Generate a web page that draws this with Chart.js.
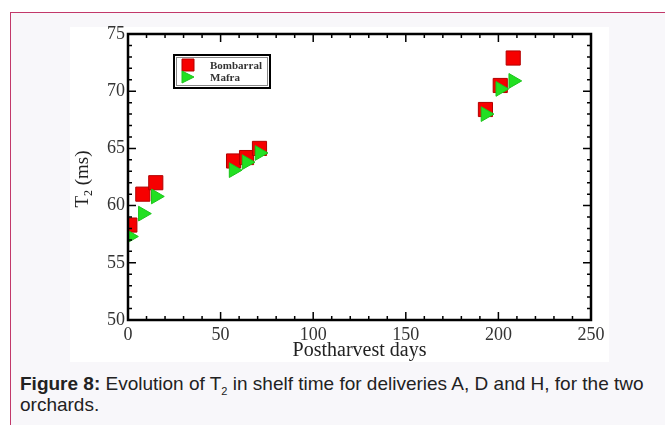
<!DOCTYPE html>
<html>
<head>
<meta charset="utf-8">
<script src="https://cdn.jsdelivr.net/npm/chart.js@4.4.1/dist/chart.umd.min.js"></script>
<style>
  html, body { margin: 0; padding: 0; }
  body { width: 665px; height: 425px; background: #fff; overflow: hidden; position: relative; }
  .frame { position: absolute; left: 10px; top: 12px; width: 700px; height: 450px;
           border: 1.5px solid #c2386a; background: #f8f7fa; box-sizing: border-box; }
  .figure { position: absolute; left: 70px; top: 27px; width: 539px; height: 335px; background: #fff; }
  .plot { position: absolute; left: 0; top: -4px; width: 539px; height: 339px; }
  .caption { position: absolute; left: 20px; top: 373px; width: 640px;
             font-family: "Liberation Sans", Arial, sans-serif; font-size: 19px; line-height: 21px; color: #222; }
  .caption sub { font-size: 11px; vertical-align: -5px; line-height: 0; }
</style>
</head>
<body>
<div class="frame"></div>
<div class="figure"><div class="plot"><canvas id="t2_chart"></canvas></div></div>
<div class="caption"><b>Figure 8:</b> Evolution of T<sub>2</sub> in shelf time for deliveries A, D and H, for the two orchards.</div>

<script>
// Data
const days_bombarral = [1, 8, 15, 57, 64, 71, 193, 201, 208];
const t2_bombarral = [58.3, 61.0, 62.0, 63.9, 64.2, 65.0, 68.4, 70.5, 72.9];
const days_mafra = [1, 8, 15, 57, 64, 71, 193, 201, 208];
const t2_mafra = [57.3, 59.3, 60.8, 63.1, 63.8, 64.6, 68.0, 70.2, 70.9];
const series_names = ["Bombarral", "Mafra"];
const x_title = "Postharvest days";

const ctx = document.getElementById("t2_chart").getContext("2d");

function toPoints(xs, ys) {
  return xs.map((x, i) => ({ x: x, y: ys[i] }));
}

// frame, inward ticks on all 4 sides, axis titles, legend box
const decorations = {
  id: "decorations",
  afterDraw(chart) {
    const c = chart.ctx;
    const a = chart.chartArea;
    const xs = chart.scales.x, ys = chart.scales.y;
    c.save();
    c.strokeStyle = "#000";
    c.lineWidth = 1.5;
    c.beginPath();
    for (let v = 0; v <= 250; v += 10) {
      const px = xs.getPixelForValue(v);
      const len = v % 50 === 0 ? 8 : 4;
      c.moveTo(px, a.bottom); c.lineTo(px, a.bottom - len);
      c.moveTo(px, a.top); c.lineTo(px, a.top + len);
    }
    for (let v = 50; v <= 75; v += 1) {
      const py = ys.getPixelForValue(v);
      const len = v % 5 === 0 ? 8 : 4;
      c.moveTo(a.left, py); c.lineTo(a.left + len, py);
      c.moveTo(a.right, py); c.lineTo(a.right - len, py);
    }
    c.stroke();
    c.lineWidth = 2.5;
    c.strokeRect(a.left, a.top, a.right - a.left, a.bottom - a.top);

    // x title
    c.fillStyle = "#222";
    c.font = "20px 'Liberation Serif', serif";
    c.textAlign = "center";
    c.textBaseline = "middle";
    c.fillText(x_title, (a.left + a.right) / 2, 328);

    // y title with subscript
    c.translate(12, (a.top + a.bottom) / 2 + 2);
    c.rotate(-Math.PI / 2);
    c.textAlign = "left";
    c.textBaseline = "alphabetic";
    c.font = "19px 'Liberation Serif', serif";
    const wT = c.measureText("T").width;
    c.font = "12px 'Liberation Serif', serif";
    const w2 = c.measureText("2").width;
    c.font = "19px 'Liberation Serif', serif";
    const wRest = c.measureText(" (ms)").width;
    let x0 = -(wT + w2 + wRest) / 2;
    c.fillText("T", x0, 6);
    c.font = "12px 'Liberation Serif', serif";
    c.fillText("2", x0 + wT, 10);
    c.font = "19px 'Liberation Serif', serif";
    c.fillText(" (ms)", x0 + wT + w2, 6);
    c.restore();

    // legend
    c.save();
    const lx = 104, ly = 32, lw = 96, lh = 33;
    c.fillStyle = "#fff";
    c.fillRect(lx, ly, lw, lh);
    c.strokeStyle = "#888";
    c.lineWidth = 1;
    c.strokeRect(lx + 2.5, ly + 2.5, lw - 5, lh - 5);
    c.strokeStyle = "#000";
    c.lineWidth = 2;
    c.strokeRect(lx, ly, lw, lh);
    c.font = "bold 11px 'Liberation Serif', serif";
    c.textBaseline = "middle";
    c.textAlign = "left";
    chart.data.datasets.forEach((ds, i) => {
      const cy = ly + 10 + i * 12;
      c.fillStyle = ds.backgroundColor;
      c.strokeStyle = ds.borderColor;
      c.lineWidth = 1;
      c.beginPath();
      if (i === 0) {
        c.rect(lx + 8, cy - 6, 12, 12);
      } else {
        c.moveTo(lx + 8, cy - 6); c.lineTo(lx + 20, cy); c.lineTo(lx + 8, cy + 6); c.closePath();
      }
      c.fill();
      c.stroke();
      c.fillStyle = "#333";
      c.fillText(ds.label, lx + 36, cy + 1);
    });
    c.restore();
  }
};

new Chart(ctx, {
  type: "scatter",
  data: {
    datasets: [
      {
        label: series_names[0],
        data: toPoints(days_bombarral, t2_bombarral),
        order: 1,
        pointStyle: "rect",
        pointRadius: 10,
        pointHoverRadius: 10,
        backgroundColor: "#f60000",
        borderColor: "#b30000",
        borderWidth: 1,
      },
      {
        label: series_names[1],
        data: toPoints(days_mafra, t2_mafra),
        order: 0,
        pointStyle: "triangle",
        rotation: 90,
        pointRotation: 90,
        pointRadius: 8.5,
        pointHoverRadius: 8.5,
        backgroundColor: "#22e022",
        borderColor: "#1cc41c",
        borderWidth: 1,
      },
    ],
  },
  options: {
    responsive: true,
    maintainAspectRatio: false,
    animation: false,
    layout: { padding: { top: 4, right: 18, left: 0, bottom: 0 } },
    plugins: { legend: { display: false }, tooltip: { enabled: false } },
    scales: {
      x: {
        type: "linear", min: 0, max: 250,
        grid: { display: false, drawTicks: false },
        border: { display: false },
        ticks: { stepSize: 50, padding: 4, color: "#333", font: { family: "'Liberation Serif', serif", size: 18 } },
        afterFit: (axis) => { axis.height = 42; axis.paddingLeft = 0; axis.paddingRight = 0; },
      },
      y: {
        type: "linear", min: 50, max: 75,
        grid: { display: false, drawTicks: false },
        border: { display: false },
        ticks: { stepSize: 5, padding: 3, color: "#333", font: { family: "'Liberation Serif', serif", size: 18 } },
        afterFit: (axis) => { axis.width = 58; axis.paddingTop = 0; axis.paddingBottom = 0; },
      },
    },
  },
  plugins: [decorations],
});
</script>
</body>
</html>
